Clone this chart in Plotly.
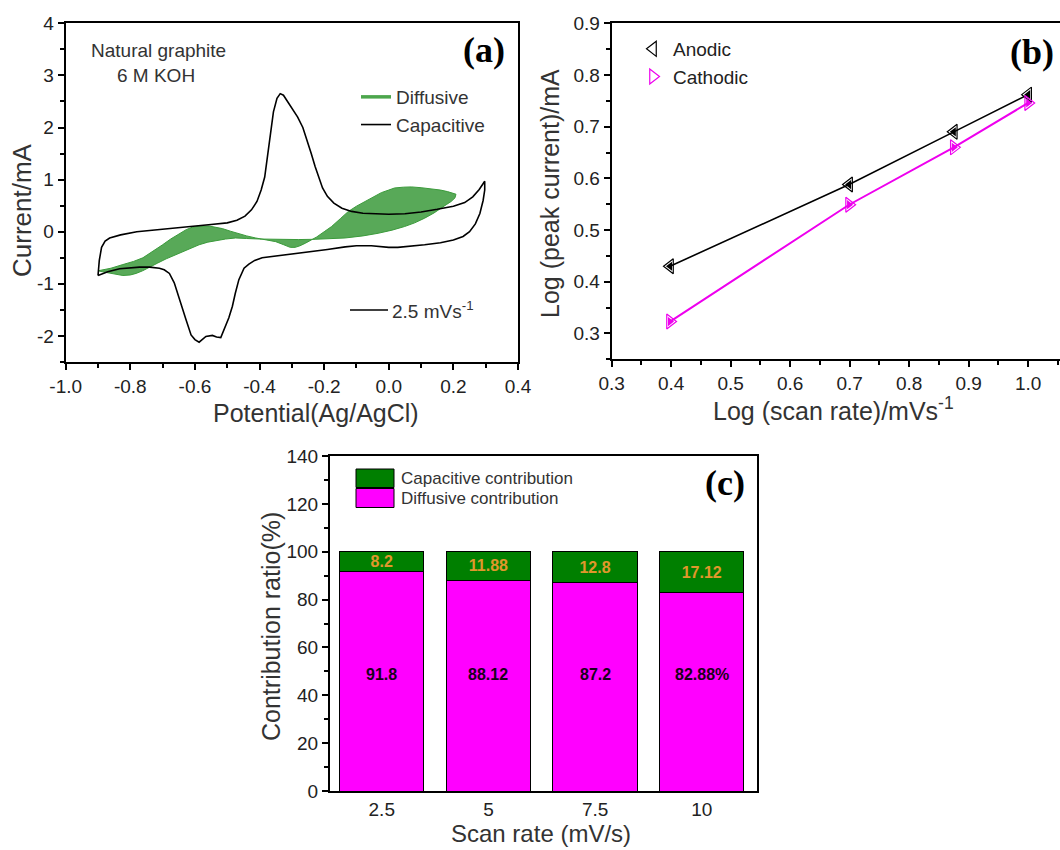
import plotly.graph_objects as go

W, H = 1060, 850
def X(px): return px / W
def Y(py): return 1 - py / H

# ---------------- data ----------------
# (a) CV at 2.5 mV/s: full loop (capacitive outline) and diffusive loop
cv_up_x = [-0.900, -0.896, -0.889, -0.878, -0.864, -0.83, -0.78, -0.72, -0.66, -0.607, -0.55, -0.50, -0.47,
           -0.445, -0.425, -0.408, -0.395, -0.384, -0.375, -0.367, -0.357, -0.346, -0.336, -0.326, -0.313,
           -0.298, -0.282, -0.266, -0.252, -0.240, -0.228, -0.215, -0.205, -0.190, -0.170, -0.145, -0.115,
           -0.08, -0.04, 0.00, 0.05, 0.10, 0.15, 0.20, 0.235, 0.260, 0.280, 0.297]
cv_up_y = [-0.84, -0.55, -0.30, -0.18, -0.12, -0.06, 0.00, 0.04, 0.08, 0.11, 0.14, 0.17, 0.22,
           0.30, 0.42, 0.58, 0.80, 1.05, 1.45, 1.90, 2.30, 2.56, 2.65, 2.62, 2.50,
           2.36, 2.20, 2.00, 1.75, 1.50, 1.25, 1.00, 0.84, 0.68, 0.55, 0.45, 0.39,
           0.355, 0.34, 0.335, 0.345, 0.38, 0.43, 0.49, 0.56, 0.67, 0.81, 0.97]
cv_dn_x = [0.297, 0.292, 0.282, 0.268, 0.250, 0.230, 0.200, 0.160, 0.111, 0.060, 0.028, 0.000, -0.054,
           -0.100, -0.135, -0.190, -0.238, -0.290, -0.340, -0.392, -0.415, -0.433, -0.448, -0.464,
           -0.475, -0.484, -0.495, -0.505, -0.520, -0.533, -0.546, -0.566, -0.587, -0.600, -0.612,
           -0.628, -0.640, -0.648, -0.656, -0.664, -0.679, -0.695, -0.710, -0.740, -0.771, -0.800,
           -0.833, -0.870, -0.900]
cv_dn_y = [0.80, 0.60, 0.35, 0.15, 0.00, -0.09, -0.16, -0.21, -0.25, -0.28, -0.30, -0.30, -0.27,
           -0.27, -0.29, -0.34, -0.38, -0.42, -0.47, -0.50, -0.55, -0.62, -0.70, -0.92,
           -1.18, -1.43, -1.65, -1.81, -2.03, -2.02, -1.99, -2.01, -2.12, -2.07, -1.98,
           -1.68, -1.45, -1.30, -1.14, -0.98, -0.80, -0.73, -0.70, -0.68, -0.68, -0.69,
           -0.71, -0.77, -0.84]

dif_fw_x = [-0.900, -0.86, -0.823, -0.79, -0.761, -0.73, -0.70, -0.675, -0.648, -0.627, -0.607, -0.58,
            -0.556, -0.535, -0.515, -0.49, -0.464, -0.44, -0.412, -0.38, -0.35, -0.325, -0.305, -0.29,
            -0.275, -0.258, -0.24, -0.223, -0.20, -0.177, -0.15, -0.125, -0.10, -0.074, -0.05, -0.023,
            0.00, 0.018, 0.045, 0.07, 0.10, 0.131, 0.16, 0.182, 0.198, 0.208]
dif_fw_y = [-0.75, -0.70, -0.63, -0.57, -0.50, -0.38, -0.25, -0.14, -0.03, 0.04, 0.09, 0.11,
            0.11, 0.09, 0.06, 0.01, -0.04, -0.08, -0.12, -0.15, -0.19, -0.25, -0.30, -0.30,
            -0.27, -0.22, -0.16, -0.10, 0.00, 0.10, 0.25, 0.39, 0.49, 0.58, 0.67, 0.75,
            0.80, 0.84, 0.855, 0.86, 0.845, 0.825, 0.80, 0.77, 0.745, 0.72]
dif_bk_x = [0.205, 0.193, 0.178, 0.162, 0.14, 0.111, 0.08, 0.049, 0.01, -0.033, -0.08, -0.135, -0.18,
            -0.228, -0.28, -0.34, -0.40, -0.44, -0.474, -0.505, -0.535, -0.56, -0.587, -0.61, -0.638,
            -0.665, -0.689, -0.715, -0.741, -0.762, -0.782, -0.80, -0.823, -0.845, -0.864, -0.885, -0.900]
dif_bk_y = [0.65, 0.58, 0.52, 0.45, 0.36, 0.26, 0.17, 0.10, 0.03, -0.03, -0.08, -0.12, -0.135,
            -0.145, -0.15, -0.15, -0.14, -0.13, -0.12, -0.14, -0.17, -0.20, -0.25, -0.31, -0.38,
            -0.45, -0.52, -0.60, -0.69, -0.75, -0.80, -0.83, -0.84, -0.82, -0.79, -0.77, -0.75]

a_xticks = [-1.0, -0.8, -0.6, -0.4, -0.2, 0.0, 0.2, 0.4]
a_xticklabels = ["-1.0", "-0.8", "-0.6", "-0.4", "-0.2", "0.0", "0.2", "0.4"]
a_yticks = [-2, -1, 0, 1, 2, 3, 4]
a_yticklabels = ["-2", "-1", "0", "1", "2", "3", "4"]

# (b) log peak current vs log scan rate
log_rate = [0.398, 0.699, 0.875, 1.000]
log_ip_anodic = [0.430, 0.588, 0.690, 0.762]
log_ip_cathodic = [0.323, 0.549, 0.660, 0.746]

# (c) contribution ratios
scan_rates = ["2.5", "5", "7.5", "10"]
diffusive_pct = [91.8, 88.12, 87.2, 82.88]
capacitive_pct = [8.2, 11.88, 12.8, 17.12]
diffusive_labels = ["91.8", "88.12", "87.2", "82.88%"]

FONT = "Arial, Liberation Sans, sans-serif"
SERIF = "Times New Roman, Liberation Serif, serif"
TXT = "#333333"

fig = go.Figure()

# ---- (a) ----
fig.add_trace(go.Scatter(x=dif_fw_x + dif_bk_x, y=dif_fw_y + dif_bk_y, mode="lines", fill="toself",
                         fillcolor="rgba(70,160,70,0.9)", line=dict(color="#3b9a3b", width=1),
                         showlegend=False, xaxis="x", yaxis="y", hoverinfo="skip"))
fig.add_trace(go.Scatter(x=cv_up_x + cv_dn_x, y=cv_up_y + cv_dn_y, mode="lines",
                         line=dict(color="black", width=1.6), showlegend=False, xaxis="x", yaxis="y"))
fig.add_trace(go.Scatter(x=[None], y=[None], mode="lines", name="Diffusive",
                         line=dict(color="#4ca64c", width=3.5), legend="legend", xaxis="x", yaxis="y"))
fig.add_trace(go.Scatter(x=[None], y=[None], mode="lines", name="Capacitive",
                         line=dict(color="black", width=1.6), legend="legend", xaxis="x", yaxis="y"))

# ---- (b) ----
fig.add_trace(go.Scatter(x=log_rate, y=log_ip_anodic, mode="lines", line=dict(color="black", width=1.6),
                         showlegend=False, xaxis="x2", yaxis="y2"))
fig.add_trace(go.Scatter(x=log_rate, y=log_ip_cathodic, mode="lines", line=dict(color="#ee00ee", width=2),
                         showlegend=False, xaxis="x2", yaxis="y2"))
fig.add_trace(go.Scatter(x=log_rate, y=log_ip_anodic, mode="markers", name="Anodic",
                         marker=dict(symbol="triangle-left-open", size=13, color="black", line=dict(width=1.2)),
                         legend="legend2", xaxis="x2", yaxis="y2"))
fig.add_trace(go.Scatter(x=log_rate, y=log_ip_anodic, mode="markers", showlegend=False,
                         marker=dict(symbol="triangle-left", size=8, color="black", line=dict(width=0)),
                         xaxis="x2", yaxis="y2"))
fig.add_trace(go.Scatter(x=log_rate, y=log_ip_cathodic, mode="markers", name="Cathodic",
                         marker=dict(symbol="triangle-right-open", size=13, color="#ee00ee", line=dict(width=1.2)),
                         legend="legend2", xaxis="x2", yaxis="y2"))
fig.add_trace(go.Scatter(x=log_rate, y=log_ip_cathodic, mode="markers", showlegend=False,
                         marker=dict(symbol="triangle-right", size=8, color="#ee00ee", line=dict(width=0)),
                         xaxis="x2", yaxis="y2"))

# ---- (c) ----
fig.add_trace(go.Bar(x=scan_rates, y=diffusive_pct, name="Diffusive contribution", width=0.79,
                     marker=dict(color="#ff00ff", line=dict(color="black", width=1)),
                     showlegend=False, xaxis="x3", yaxis="y3"))
fig.add_trace(go.Bar(x=scan_rates, y=capacitive_pct, name="Capacitive contribution", width=0.79,
                     marker=dict(color="#007f00", line=dict(color="black", width=1)),
                     text=[str(v) for v in capacitive_pct], textposition="inside", insidetextanchor="middle",
                     textangle=0, textfont=dict(family=FONT, size=16, color="#e0972c", weight="bold"),
                     showlegend=False, xaxis="x3", yaxis="y3"))

axis_common = dict(showline=True, linewidth=2, linecolor="black", ticks="outside", ticklen=6, tickwidth=2,
                   tickcolor="black", showgrid=False, zeroline=False, automargin=False,
                   tickfont=dict(family=FONT, size=19, color="#222222"))

fig.update_layout(
    width=W, height=H, margin=dict(l=0, r=0, t=0, b=0, autoexpand=False),
    paper_bgcolor="white", plot_bgcolor="white", barmode="stack",
    uniformtext=dict(minsize=16, mode="show"),
    xaxis=dict(domain=[X(65.7), X(518)], range=[-1.0, 0.4], tickmode="array", tickvals=a_xticks,
               ticktext=a_xticklabels, mirror=True, anchor="y",
               minor=dict(ticks="outside", tickmode="linear", tick0=-1.0, dtick=0.1, ticklen=4, tickwidth=2,
                          tickcolor="black"),
               **axis_common),
    yaxis=dict(domain=[Y(362), Y(23.3)], range=[-2.5, 4], tickmode="array", tickvals=a_yticks,
               ticktext=a_yticklabels, mirror=True, anchor="x",
               minor=dict(ticks="outside", tickmode="linear", tick0=0, dtick=0.5, ticklen=4, tickwidth=2,
                          tickcolor="black"),
               **axis_common),
    xaxis2=dict(domain=[X(611.7), 1.0], range=[0.3, 1.0535], tick0=0.3, dtick=0.1, tickformat=".1f",
                mirror=True, anchor="y2",
                minor=dict(ticks="outside", dtick=0.05, ticklen=4, tickwidth=2, tickcolor="black"),
                **axis_common),
    yaxis2=dict(domain=[Y(359.3), Y(23.3)], range=[0.25, 0.9], tick0=0.3, dtick=0.1, tickformat=".1f",
                mirror=False, anchor="x2",
                minor=dict(ticks="outside", dtick=0.05, ticklen=4, tickwidth=2, tickcolor="black"),
                **axis_common),
    xaxis3=dict(domain=[X(330), X(756.7)], range=[-0.485, 3.515], type="category", mirror=True,
                anchor="y3", **{**axis_common, "ticks": ""}),
    yaxis3=dict(domain=[Y(791), Y(456)], range=[0, 140], tick0=0, dtick=20, mirror=True, anchor="x3",
                minor=dict(ticks="outside", dtick=10, ticklen=4, tickwidth=2, tickcolor="black"),
                **axis_common),
    legend=dict(x=X(356), y=Y(78), xanchor="left", yanchor="top", bgcolor="rgba(0,0,0,0)",
                font=dict(family=FONT, size=19, color=TXT), tracegroupgap=0, traceorder="normal"),
    legend2=dict(x=X(633), y=Y(30), xanchor="left", yanchor="top", bgcolor="rgba(0,0,0,0)",
                 font=dict(family=FONT, size=19, color="#222222"), tracegroupgap=0, traceorder="normal"),
)

ann = []
def A(text, px, py, size=19, angle=0, family=FONT, color=TXT, xanchor="center"):
    ann.append(dict(text=text, x=X(px), y=Y(py), xref="paper", yref="paper", showarrow=False,
                    textangle=angle, xanchor=xanchor, yanchor="middle",
                    font=dict(family=family, size=size, color=color)))

# axis titles
A("Current/mA", 22, 210, 26, -90)
A("Potential(Ag/AgCl)", 316, 413, 25)
A("Log (peak current)/mA", 550, 194, 25, -90)
A("Log (scan rate)/mVs<sup>-1</sup>", 833, 409, 25)
A("Contribution ratio(%)", 271, 627, 25, -90)
A("Scan rate (mV/s)", 541, 833, 24)
# panel labels
A("<b>(a)</b>", 484, 50, 36, family=SERIF, color="black")
A("<b>(b)</b>", 1032, 52, 36, family=SERIF, color="black")
A("<b>(c)</b>", 725, 483, 36, family=SERIF, color="black")
# notes in (a)
A("Natural graphite", 158, 50, 19)
A("6 M KOH", 156, 76, 19)
A("2.5 mVs<sup>-1</sup>", 390, 310, 19, xanchor="left")
# diffusive value labels in (c), placed on the category index of each bar
for i, lab in enumerate(diffusive_labels):
    ann.append(dict(text=f"<b>{lab}</b>", x=i, y=48.5, xref="x3", yref="y3", showarrow=False,
                    font=dict(family=FONT, size=16, color="#1a001a")))
# (c) legend text
A("Capacitive contribution", 399, 478, 17, xanchor="left")
A("Diffusive contribution", 399, 498, 17, xanchor="left")
fig.update_layout(annotations=ann)

shapes = [
    dict(type="line", xref="paper", yref="paper", x0=X(350), x1=X(388), y0=Y(310), y1=Y(310),
         line=dict(color="black", width=1.6)),
    dict(type="rect", xref="paper", yref="paper", x0=X(356), x1=X(394), y0=Y(469), y1=Y(487.5),
         fillcolor="#007f00", line=dict(color="black", width=1)),
    dict(type="rect", xref="paper", yref="paper", x0=X(356), x1=X(394), y0=Y(488.5), y1=Y(507.5),
         fillcolor="#ff00ff", line=dict(color="black", width=1)),
]
fig.update_layout(shapes=shapes)

fig.write_html("out.html")
